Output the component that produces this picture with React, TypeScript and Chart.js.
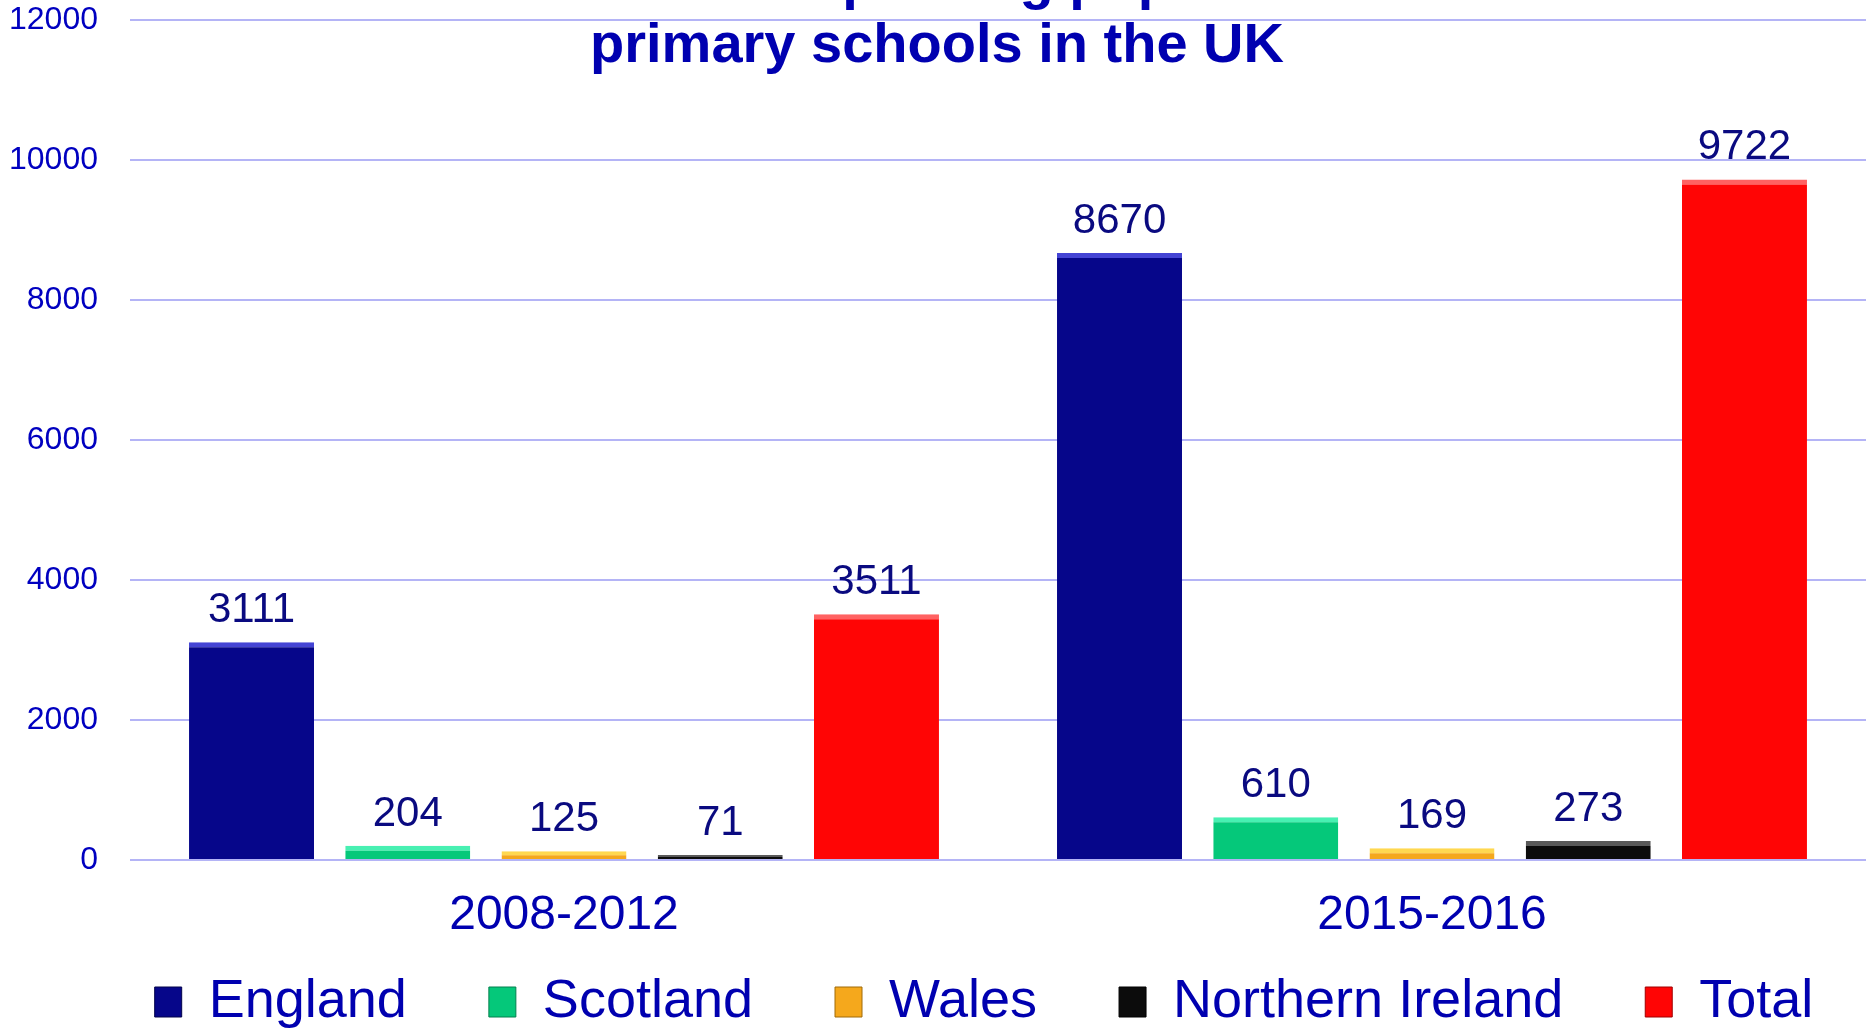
import React, { useEffect, useRef } from "react";
import { Chart, registerables } from "chart.js";

Chart.register(...registerables);

// ---- data ----
const categories = ["2008-2012", "2015-2016"];
const seriesNames = ["England", "Scotland", "Wales", "Northern Ireland", "Total"];
const england = [3111, 8670];
const scotland = [204, 610];
const wales = [125, 169];
const northernIreland = [71, 273];
const total = [3511, 9722];
const yMin = 0;
const yMax = 12000;
const yStep = 2000;
const titleLines = ["Chinese-speaking pupils in", "primary schools in the UK"];

// ---- styles ----
const seriesColors = ["#06068a", "#05c87a", "#f5a81c", "#0c0c0c", "#ff0505"];
const seriesTopColors = ["#4444d4", "#48f0b2", "#ffd850", "#5a5a5a", "#ff6262"];
const seriesEdgeColors = ["#02024a", "#03804e", "#a06a08", "#000000", "#a00000"];
const FONT = '"Liberation Sans", Arial, Helvetica, sans-serif';
const CANVAS_W = 1866;
const CANVAS_H = 1090;

const seriesValues = [england, scotland, wales, northernIreland, total];

const titlePlugin = {
  id: "clippedTitle",
  afterDraw(chart: any) {
    const ctx = chart.ctx;
    ctx.save();
    ctx.font = `bold 56px ${FONT}`;
    ctx.fillStyle = "#0000b0";
    ctx.textAlign = "center";
    ctx.textBaseline = "alphabetic";
    const cx = chart.width / 2 + 4;
    ctx.fillText(titleLines[0], cx, -2);
    ctx.fillText(titleLines[1], cx, 62);
    ctx.restore();
  },
};

const valueLabelPlugin = {
  id: "valueLabels",
  afterDatasetsDraw(chart: any) {
    const ctx = chart.ctx;
    ctx.save();
    ctx.font = `42px ${FONT}`;
    ctx.fillStyle = "#0a0a80";
    ctx.textAlign = "center";
    ctx.textBaseline = "alphabetic";
    chart.data.datasets.forEach((ds: any, di: number) => {
      const meta = chart.getDatasetMeta(di);
      meta.data.forEach((el: any, i: number) => {
        ctx.fillText(String(ds.data[i]), el.x, el.y - 20);
      });
    });
    ctx.restore();
  },
};

// nudges the built-in legend box (after layout) so that it sits where the
// original legend row sits
const legendShiftPlugin = {
  id: "legendShift",
  afterLayout(chart: any) {
    const lg = chart.legend;
    if (!lg) return;
    lg.left += 46;
    lg.right += 46;
    lg.top -= 51;
    lg.bottom -= 51;
  },
};

export default function App() {
  const canvasRef = useRef<HTMLCanvasElement | null>(null);

  useEffect(() => {
    const canvas = canvasRef.current;
    if (!canvas) return;
    const chart = new Chart(canvas, {
      type: "bar",
      data: {
        labels: categories,
        datasets: seriesNames.map((name, i) => ({
          label: name,
          data: seriesValues[i],
          backgroundColor: seriesColors[i],
          borderColor: seriesTopColors[i],
          borderWidth: { top: 5, left: 0, right: 0, bottom: 0 },
          borderSkipped: false,
          categoryPercentage: 0.9,
          barPercentage: 0.8,
        })),
      },
      options: {
        responsive: false,
        animation: false,
        devicePixelRatio: 1,
        layout: { padding: { top: 20, left: 0, right: -10, bottom: 0 } },
        scales: {
          x: {
            grid: { display: false, drawTicks: false },
            border: { display: false },
            ticks: {
              color: "#0000b0",
              font: { family: FONT, size: 48 },
              padding: 27,
            },
            afterFit: (scale: any) => {
              scale.height = 84;
            },
          },
          y: {
            min: yMin,
            max: yMax,
            grid: {
              color: "#b4b4f6",
              lineWidth: 2,
              drawTicks: true,
              tickLength: 32,
              tickColor: "rgba(0,0,0,0)",
            },
            border: { display: false },
            ticks: {
              stepSize: yStep,
              color: "#0000c0",
              font: { family: FONT, size: 32 },
              padding: 0,
              callback: (v: any) => String(v),
            },
            afterFit: (scale: any) => {
              scale.width = 130;
            },
          },
        },
        plugins: {
          title: { display: false },
          tooltip: { enabled: false },
          legend: {
            display: true,
            position: "bottom",
            labels: {
              color: "#0000b0",
              font: { family: FONT, size: 54 },
              boxWidth: 27,
              boxHeight: 30,
              padding: 82,
              generateLabels: (c: any) =>
                Chart.defaults.plugins.legend.labels
                  .generateLabels(c)
                  .map((l: any, i: number) => ({
                    ...l,
                    lineWidth: 1,
                    strokeStyle: seriesEdgeColors[i],
                  })),
            },
          },
        },
      } as any,
      plugins: [valueLabelPlugin, titlePlugin, legendShiftPlugin],
    });
    return () => chart.destroy();
  }, []);

  return (
    <div
      style={{
        position: "fixed",
        left: 0,
        top: 0,
        width: 1866,
        height: 1029,
        overflow: "hidden",
        background: "#ffffff",
      }}
    >
      <canvas
        ref={canvasRef}
        width={CANVAS_W}
        height={CANVAS_H}
        style={{ display: "block", width: CANVAS_W, height: CANVAS_H }}
      />
    </div>
  );
}
